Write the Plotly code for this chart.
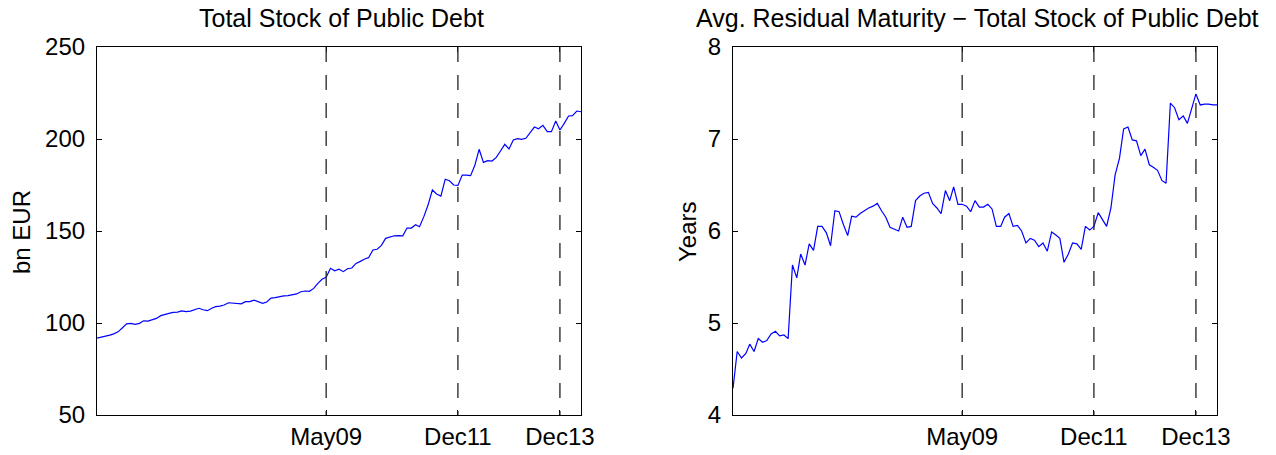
import pandas as pd
import plotly.graph_objects as go

# ---------------- data ----------------
start_month = "2004-11-01"
n_months = 115
dates = pd.date_range(start_month, periods=n_months, freq="MS")

debt_bn_eur = [
    91.8, 92.2, 92.6, 93.4, 94.1, 95.2, 97.3, 99.5, 99.8, 99.3,
    99.8, 101.2, 101.0, 101.7, 102.5, 104.0, 104.4, 105.2, 105.8, 105.9,
    106.6, 106.2, 106.5, 107.2, 108.0, 107.2, 106.7, 108.0, 108.9, 109.2,
    109.8, 111.0, 110.8, 110.6, 110.4, 111.6, 111.6, 112.4, 111.4, 110.7,
    111.4, 113.5, 113.8, 114.4, 114.7, 114.9, 115.3, 115.8, 117.0, 117.4,
    117.2, 118.8, 121.4, 123.8, 124.8, 129.7, 128.4, 129.2, 127.9, 129.5,
    129.9, 132.4, 133.5, 134.8, 135.5, 139.7, 140.1, 142.2, 146.0, 146.7,
    147.4, 147.5, 147.4, 151.6, 151.6, 153.4, 152.3, 157.8, 164.1, 172.3,
    170.1, 169.0, 178.1, 177.3, 175.0, 174.8, 180.4, 180.4, 180.1, 185.9,
    194.4, 187.3, 188.2, 188.0, 190.0, 193.5, 197.1, 194.6, 199.5, 200.2,
    199.8, 200.4, 203.6, 206.5, 205.6, 207.4, 204.0, 204.0, 209.8, 204.9,
    208.5, 212.5, 212.7, 215.2, 214.8,
]

maturity_years = [
    4.29, 4.69, 4.62, 4.67, 4.77, 4.69, 4.83, 4.79, 4.81, 4.88,
    4.91, 4.86, 4.87, 4.83, 5.63, 5.49, 5.75, 5.63, 5.86, 5.79,
    6.05, 6.05, 5.98, 5.84, 6.22, 6.21, 6.07, 5.95, 6.16, 6.15,
    6.19, 6.22, 6.25, 6.27, 6.30, 6.22, 6.15, 6.04, 6.02, 6.00,
    6.15, 6.04, 6.05, 6.33, 6.38, 6.41, 6.42, 6.30, 6.25, 6.19,
    6.44, 6.33, 6.48, 6.29, 6.29, 6.27, 6.21, 6.33, 6.26, 6.26,
    6.29, 6.24, 6.05, 6.05, 6.15, 6.19, 6.05, 6.06, 6.00, 5.87,
    5.92, 5.90, 5.83, 5.87, 5.78, 5.99, 5.96, 5.92, 5.66, 5.75,
    5.87, 5.86, 5.80, 6.05, 6.01, 6.05, 6.20, 6.12, 6.05, 6.25,
    6.61, 6.79, 7.11, 7.13, 6.99, 6.98, 6.82, 6.89, 6.72, 6.69,
    6.66, 6.55, 6.52, 7.39, 7.34, 7.21, 7.25, 7.17, 7.32, 7.49,
    7.37, 7.38, 7.38, 7.37, 7.37,
]

event_dates = ["2009-05-01", "2011-12-01", "2013-12-01"]
event_labels = ["May09", "Dec11", "Dec13"]

left_title = "Total Stock of Public Debt"
right_title = "Avg. Residual Maturity \u2212 Total Stock of Public Debt"
left_ylabel = "bn EUR"
right_ylabel = "Years"
left_yticks = [50, 100, 150, 200, 250]
right_yticks = [4, 5, 6, 7, 8]

# ---------------- figure ----------------
W, H = 1276, 455
FONT = "Liberation Sans, Arial, Helvetica, sans-serif"
fs_tick = 24
fs_title = 25

fig = go.Figure()
fig.add_trace(go.Scatter(x=dates, y=debt_bn_eur, mode="lines",
                         line=dict(color="#0000ff", width=1.2),
                         xaxis="x", yaxis="y", showlegend=False))
fig.add_trace(go.Scatter(x=dates, y=maturity_years, mode="lines",
                         line=dict(color="#0000ff", width=1.2),
                         xaxis="x2", yaxis="y2", showlegend=False))

def px_x(p):
    return p / W

def px_y(p):
    return (H - p) / H

ydom = [px_y(415), px_y(47)]
xdom1 = [px_x(97), px_x(581)]
xdom2 = [px_x(733), px_x(1217)]

xcommon = dict(
    range=[dates[0], dates[-1]], tickmode="array",
    tickvals=event_dates, ticktext=event_labels,
    ticks="inside", ticklen=5, tickcolor="black", tickwidth=1,
    showline=True, linecolor="black", linewidth=1.2, mirror="ticks",
    showgrid=False, zeroline=False, automargin=False,
    tickfont=dict(family=FONT, size=fs_tick, color="black"),
)
ycommon = dict(
    ticks="inside", ticklen=5, tickcolor="black", tickwidth=1,
    showline=True, linecolor="black", linewidth=1.2, mirror="ticks",
    showgrid=False, zeroline=False, ticklabelstandoff=6, automargin=False,
    tickfont=dict(family=FONT, size=fs_tick, color="black"),
)

fig.update_layout(
    width=W, height=H, autosize=False,
    margin=dict(l=0, r=0, t=0, b=0, pad=0, autoexpand=False),
    paper_bgcolor="white", plot_bgcolor="white",
    xaxis=dict(domain=xdom1, anchor="y", **xcommon),
    yaxis=dict(domain=ydom, anchor="x", range=[50, 250],
               tickvals=left_yticks, **ycommon),
    xaxis2=dict(domain=xdom2, anchor="y2", **xcommon),
    yaxis2=dict(domain=ydom, anchor="x2", range=[4, 8],
                tickvals=right_yticks, **ycommon),
)

# dashed event lines
for xref, yref in (("x", "y domain"), ("x2", "y2 domain")):
    for d in event_dates:
        fig.add_shape(type="line", xref=xref, yref=yref,
                      x0=d, x1=d, y0=1, y1=0,
                      line=dict(color="#222222", width=1.3, dash="15px,13px"))

# titles and axis labels
title_font = dict(family=FONT, size=fs_title, color="black")
lab_font = dict(family=FONT, size=fs_tick, color="black")
fig.add_annotation(text=left_title, xref="paper", yref="paper",
                   x=px_x(341), y=px_y(18), xanchor="center", yanchor="middle",
                   showarrow=False, font=title_font)
fig.add_annotation(text=right_title, xref="paper", yref="paper",
                   x=px_x(978), y=px_y(18), xanchor="center", yanchor="middle",
                   showarrow=False, font=title_font)
fig.add_annotation(text=left_ylabel, xref="paper", yref="paper",
                   x=px_x(22), y=px_y(232), xanchor="center", yanchor="middle",
                   textangle=-90, showarrow=False, font=lab_font)
fig.add_annotation(text=right_ylabel, xref="paper", yref="paper",
                   x=px_x(688), y=px_y(232), xanchor="center", yanchor="middle",
                   textangle=-90, showarrow=False, font=lab_font)

fig.write_html("out.html", config={"displayModeBar": False},
               post_script="document.body.style.margin='0px';")
